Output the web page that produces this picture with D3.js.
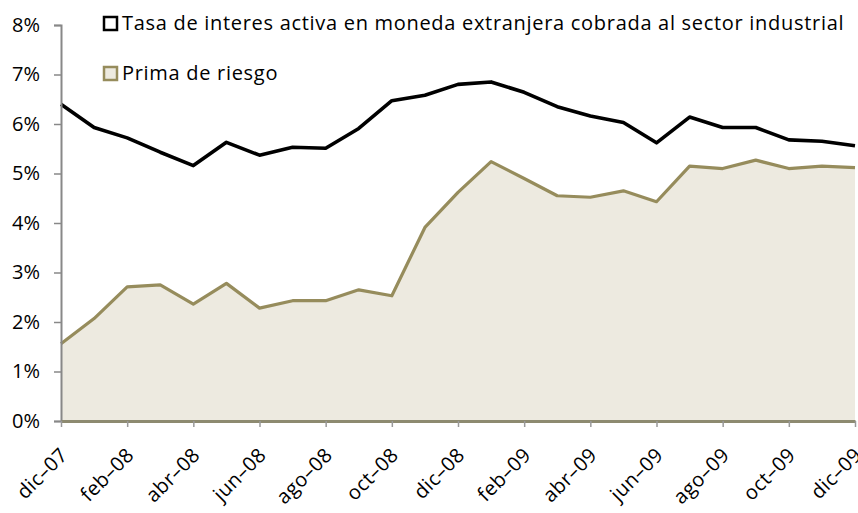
<!DOCTYPE html>
<html>
<head>
<meta charset="utf-8">
<script src="https://cdn.jsdelivr.net/npm/d3@7"></script>
<style>
  body { margin: 0; background: #fff; }
  text { font-family: "Open Sans", sans-serif; fill: #000; }
</style>
</head>
<body>
<script>
// monthly, dic-07 .. dic-09
var months = ["dic–07", "ene–08", "feb–08", "mar–08", "abr–08", "may–08", "jun–08", "jul–08", "ago–08", "sep–08", "oct–08", "nov–08",
  "dic–08", "ene–09", "feb–09", "mar–09", "abr–09", "may–09", "jun–09", "jul–09", "ago–09", "sep–09", "oct–09", "nov–09", "dic–09"];
var tasa = [6.40, 5.93, 5.72, 5.43, 5.16, 5.63, 5.37, 5.53, 5.51, 5.91, 6.47, 6.58,
  6.80, 6.85, 6.64, 6.35, 6.16, 6.03, 5.62, 6.14, 5.93, 5.93, 5.68, 5.65, 5.56];
var prima = [1.56, 2.07, 2.71, 2.75, 2.36, 2.78, 2.28, 2.43, 2.43, 2.65, 2.53, 3.91,
  4.62, 5.24, 4.90, 4.55, 4.52, 4.65, 4.43, 5.15, 5.10, 5.27, 5.10, 5.15, 5.12];
var yTicks = [0, 1, 2, 3, 4, 5, 6, 7, 8];
var seriesNames = ["Tasa de interes activa en moneda extranjera cobrada al sector industrial", "Prima de riesgo"];

var width = 858, height = 513;
var margin = {top: 25, right: 3, bottom: 92, left: 61};

var svg = d3.select("body").append("svg")
  .attr("width", width)
  .attr("height", height);

var x = d3.scaleLinear()
  .domain([0, months.length - 1])
  .range([margin.left, width - margin.right]);

var y = d3.scaleLinear()
  .domain([0, 8])
  .range([height - margin.bottom, margin.top]);

// area for prima de riesgo
var area = d3.area()
  .x(function(d, i) { return x(i); })
  .y0(y(0))
  .y1(function(d) { return y(d); });

svg.append("path")
  .datum(prima)
  .attr("d", area)
  .attr("fill", "#edeae0");

var line = d3.line()
  .x(function(d, i) { return x(i); })
  .y(function(d) { return y(d); });

svg.append("path")
  .datum(prima)
  .attr("d", line)
  .attr("fill", "none")
  .attr("stroke", "#968c5c")
  .attr("stroke-width", 3.2)
  .attr("stroke-linejoin", "round");

svg.append("path")
  .datum(tasa)
  .attr("d", line)
  .attr("fill", "none")
  .attr("stroke", "#000")
  .attr("stroke-width", 3.6)
  .attr("stroke-linejoin", "round");

// y axis
var yAxis = d3.axisLeft(y)
  .tickValues(yTicks)
  .tickFormat(function(d) { return d + "%"; })
  .tickSize(7)
  .tickPadding(14);

var gy = svg.append("g")
  .attr("transform", "translate(" + margin.left + ",0)")
  .call(yAxis);
gy.select(".domain").attr("stroke", "#888").attr("stroke-width", 2);
gy.selectAll(".tick line").attr("stroke", "#888").attr("stroke-width", 1.5);
gy.selectAll(".tick text")
  .style("font-size", "20px")
  .attr("fill", "#000");

// x axis
var xAxis = d3.axisBottom(x)
  .tickValues(d3.range(0, months.length, 2))
  .tickFormat(function(i) { return months[i]; })
  .tickSize(6)
  .tickSizeOuter(0);

var gx = svg.append("g")
  .attr("transform", "translate(0," + y(0) + ")")
  .call(xAxis);
gx.select(".domain").attr("stroke", "#8d8a70").attr("stroke-width", 3);
gx.selectAll(".tick line").attr("stroke", "#999").attr("stroke-width", 1.5);
gx.selectAll(".tick text")
  .style("font-size", "20px")
  .style("letter-spacing", "0.4px")
  .attr("fill", "#000")
  .attr("text-anchor", "end")
  .attr("dy", 0)
  .attr("transform", "translate(1,29) rotate(-45)");

// legend
var legend = svg.append("g");
var legendColors = [{stroke: "#000", fill: "#fff"}, {stroke: "#968c5c", fill: "#edeae0"}];
seriesNames.forEach(function(name, i) {
  var yy = 23 + i * 50;
  legend.append("rect")
    .attr("x", 104).attr("y", yy - 6)
    .attr("width", 13).attr("height", 13)
    .attr("fill", legendColors[i].fill)
    .attr("stroke", legendColors[i].stroke)
    .attr("stroke-width", 2.5);
  legend.append("text")
    .attr("x", 122).attr("y", yy + 7)
    .style("font-size", "20px")
    .style("letter-spacing", "0.7px")
    .text(name);
});
</script>
</body>
</html>
